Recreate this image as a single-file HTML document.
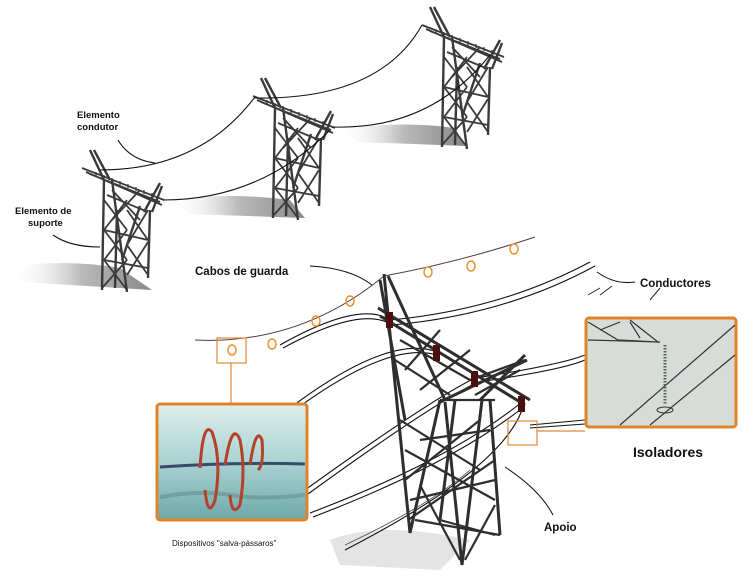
<!DOCTYPE html>
<html><head><meta charset="utf-8"><style>
html,body{margin:0;padding:0;background:#fff;}
svg{display:block}
text{font-family:"Liberation Sans",sans-serif;fill:#111;}
</style></head><body>
<svg width="754" height="581" viewBox="0 0 754 581" xmlns="http://www.w3.org/2000/svg">
<defs>
<linearGradient id="sh" x1="1" y1="0" x2="0" y2="0">
<stop offset="0" stop-color="#888"/><stop offset="0.5" stop-color="#bbb"/><stop offset="1" stop-color="#fff" stop-opacity="0"/></linearGradient>
<linearGradient id="teal" x1="0" y1="0" x2="0" y2="1">
<stop offset="0" stop-color="#dfeeed"/><stop offset="0.5" stop-color="#a9d3d2"/><stop offset="1" stop-color="#6fa8a9"/></linearGradient>
<g id="tw" stroke="#3a3a3a" fill="none" stroke-width="2.4">
<path d="M8 0 L22 30 M12 0 L28 30"/>
<path d="M0 18 L82 50 M4 22 L80 55 M8 24 L78 52" stroke-width="1.8"/>
<path d="M14 22 l0 4 M22 25 l0 4 M30 28 l0 4 M38 31 l0 4 M46 34 l0 4 M54 37 l0 4 M62 40 l0 4 M70 43 l0 4" stroke-width="1.2"/>
<path d="M78 33 L62 62 M80 36 L70 62"/>
<path d="M22 30 L20 140 M30 30 L45 142 M68 60 L66 128 M58 56 L40 110 M35 60 L33 138"/>
<path d="M22 50 L45 80 M45 50 L22 80 M22 80 L45 110 M45 80 L22 110 M22 110 L45 140 M45 110 L20 138 M45 60 L66 90 M66 60 L45 95 M45 95 L66 125 M66 92 L45 125 M25 45 L66 62 M22 80 L66 90 M22 110 L66 118 M30 40 L58 70 M58 40 L30 70" stroke-width="1.8"/>
</g>
</defs>
<rect width="754" height="581" fill="#fff"/>

<path d="M10 268 Q60 258 120 268 L152 290 L20 282 Z" fill="url(#sh)"/>
<path d="M170 200 Q230 192 290 200 L305 218 L190 214 Z" fill="url(#sh)"/>
<path d="M340 130 Q400 120 455 128 L465 146 L360 142 Z" fill="url(#sh)"/>
<path d="M330 540 Q380 520 470 540 L440 570 L340 565 Z" fill="#e4e4e4"/>

<use href="#tw" transform="translate(82,150)"/>
<use href="#tw" transform="translate(253,78)"/>
<use href="#tw" transform="translate(422,7)"/>

<g stroke="#111" fill="none" stroke-width="1.1">
<path d="M100 170 Q200 170 255 97"/>
<path d="M163 200 Q260 200 330 130"/>
<path d="M255 98 Q380 100 422 25"/>
<path d="M333 127 Q430 130 490 55"/>
<path d="M118 140 Q130 160 155 163"/>
<path d="M53 235 Q70 247 100 247"/>
</g>
<text x="77" y="118" font-size="9.5" font-weight="bold">Elemento</text>
<text x="77" y="130" font-size="9.5" font-weight="bold">condutor</text>
<text x="15" y="214" font-size="9.5" font-weight="bold">Elemento de</text>
<text x="28" y="226" font-size="9.5" font-weight="bold">suporte</text>

<g stroke="#111" fill="none" stroke-width="1.1">
<path d="M280 345 Q360 300 390 320 Q500 310 590 262"/>
<path d="M283 348 Q362 305 392 325 Q505 315 595 266"/>
<path d="M250 440 Q380 330 437 352"/>
<path d="M253 443 Q382 335 440 356"/>
<path d="M305 490 Q430 400 475 378 Q560 365 585 355"/>
<path d="M308 494 Q432 404 478 382 Q562 370 585 360"/>
<path d="M310 513 Q450 460 522 402"/>
<path d="M313 517 Q452 464 525 406"/>
<path d="M345 550 Q500 470 522 410"/>
<path d="M530 425 L585 420 M530 428 L585 424"/>
<path d="M345 545 Q430 505 470 470" stroke="#5a3a3a" stroke-width="0.8"/>
</g>
<path d="M195 340 Q300 345 384 276 Q460 262 535 237" stroke="#5a3a3a" fill="none" stroke-width="1"/>
<g fill="none" stroke="#e8902a" stroke-width="1.5">
<ellipse cx="232" cy="350" rx="4" ry="5"/><ellipse cx="272" cy="344" rx="4" ry="5"/>
<ellipse cx="316" cy="321" rx="4" ry="5"/><ellipse cx="350" cy="301" rx="4" ry="5"/>
<ellipse cx="428" cy="272" rx="4" ry="5"/><ellipse cx="471" cy="266" rx="4" ry="5"/>
<ellipse cx="514" cy="249" rx="4" ry="5"/>
</g>

<g stroke="#2e2e2e" fill="none" stroke-width="3">
<path d="M384 274 L410 533 M388 276 L445 400 M380 280 L405 420"/>
<path d="M378 308 L530 400 M380 316 L525 405"/>
<path d="M525 355 L480 400 M527 360 L440 402"/>
<path d="M440 400 L410 533 M445 402 L462 565 M490 400 L500 535 M482 400 L462 565 M455 400 L440 520"/>
<g stroke-width="2.2">
<path d="M400 340 L470 380 M395 360 L450 395 M405 370 L440 330 M420 390 L470 350"/>
<path d="M400 420 L480 470 M480 420 L405 480 M405 450 L495 500 M495 460 L408 520 M415 520 L500 535 M440 520 L495 535 M420 485 L460 560 M495 505 L465 560"/>
<path d="M440 400 L495 400 M420 440 L490 430 M410 500 L495 480"/>
<path d="M470 380 L525 360 M475 395 L520 370"/>
</g>
</g>
<g fill="#4a1010">
<rect x="386" y="312" width="7" height="16"/><rect x="433" y="345" width="7" height="16"/>
<rect x="471" y="371" width="7" height="16"/><rect x="518" y="396" width="7" height="16"/>
</g>

<g fill="none" stroke="#e08a3a" stroke-width="1.2">
<rect x="217" y="338" width="29" height="25"/>
<rect x="508" y="421" width="29" height="24"/>
<path d="M231 363 L231 404 M537 431 L585 431"/>
</g>
<rect x="157" y="404" width="150" height="116" rx="3" fill="url(#teal)" stroke="#e0842a" stroke-width="3"/>
<path d="M160 497 Q200 490 230 495 T305 495" stroke="#5b8a8a" stroke-width="4" fill="none" opacity="0.5"/>
<path d="M160 467 Q230 462 305 464" stroke="#3a4a6a" stroke-width="3" fill="none"/>
<g fill="none" stroke="#b5402a" stroke-width="3">
<path d="M200 468 Q203 420 212 432 Q222 460 215 500 Q208 520 205 490"/>
<path d="M225 465 Q232 420 240 440 Q246 470 240 505 Q232 518 230 495"/>
<path d="M250 465 Q256 425 262 440 Q264 465 258 470"/>
</g>
<rect x="586" y="318" width="150" height="109" rx="3" fill="#d8dcd8" stroke="#e0842a" stroke-width="3"/>
<g stroke="#333" fill="none" stroke-width="1.2">
<path d="M588 322 L618 340 L658 342 L630 320 M600 330 L620 322 M640 338 L630 322 M588 340 L660 342"/>
<path d="M620 425 L735 325 M650 425 L735 355"/>
</g>
<path d="M665 345 L665 405" stroke="#4a6a5a" stroke-width="3" stroke-dasharray="1.5 1.5"/>
<ellipse cx="665" cy="410" rx="8" ry="3" fill="none" stroke="#333"/>
<path d="M588 295 L600 288 M600 295 L612 286 M650 300 L660 288" stroke="#222" stroke-width="1"/>

<g stroke="#111" fill="none" stroke-width="1">
<path d="M310 266 Q350 268 372 285"/>
<path d="M597 272 Q615 285 635 282"/>
<path d="M505 467 Q540 490 553 515"/>
</g>
<text x="195" y="275" font-size="11.5" font-weight="bold">Cabos de guarda</text>
<text x="640" y="287" font-size="11.5" font-weight="bold">Conductores</text>
<text x="633" y="457" font-size="14" font-weight="bold">Isoladores</text>
<text x="544" y="531" font-size="11.5" font-weight="bold">Apoio</text>
<text x="172" y="546" font-size="8">Dispositivos "salva-pássaros"</text>
</svg>
</body></html>
